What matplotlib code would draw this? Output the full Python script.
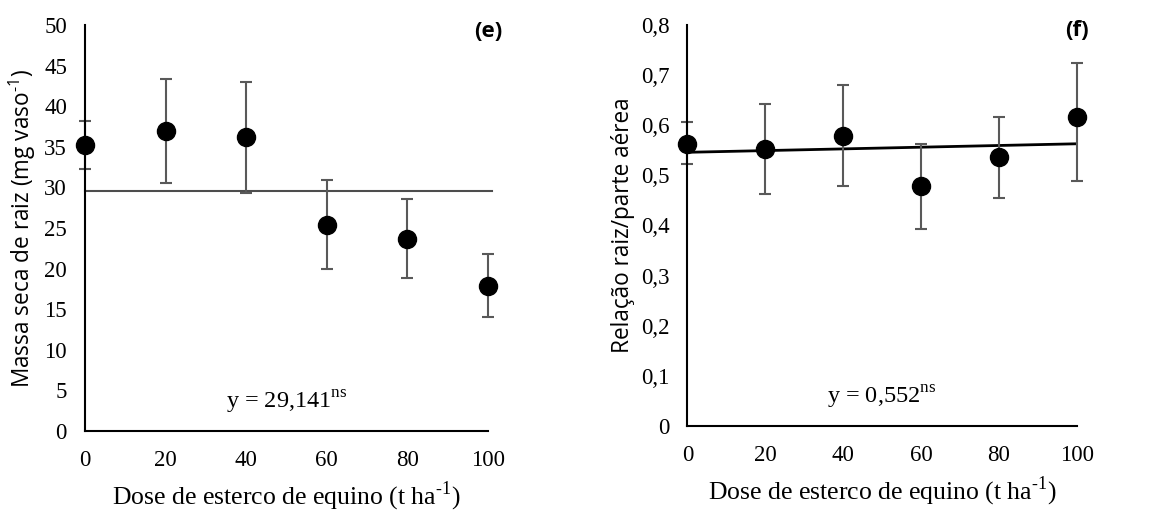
import numpy as np
import matplotlib.pyplot as plt

# doses (t ha-1)
dose = [0, 20, 40, 60, 80, 100]

# (e) root dry mass, mg per pot
massa = [35.2, 36.9, 36.2, 25.4, 23.7, 17.9]
massa_sup = [38.2, 43.3, 43.0, 30.9, 28.6, 21.8]
massa_inf = [32.3, 30.6, 29.3, 19.9, 18.8, 14.0]
massa_linha = 29.55

# (f) root / shoot ratio
rel = [0.563, 0.553, 0.579, 0.478, 0.537, 0.616]
rel_sup = [0.606, 0.643, 0.680, 0.563, 0.617, 0.724]
rel_inf = [0.522, 0.462, 0.478, 0.393, 0.455, 0.488]
rel_linha = [0.546, 0.563]  # fitted line at dose 0 and 100

serif = 'Liberation Serif'
sans = 'Open Sans'
xlab = 'Dose de esterco de equino (t ha$^{\\mathregular{\u20101}}$)'


def painel(ax, y, sup, inf, yticks, ylabels, ylab, letra, eq):
   y = np.array(y)
   err = [y - np.array(inf), np.array(sup) - y]
   ax.errorbar(dose, y, yerr=err, fmt='o', color='black', ms=13,
               ecolor='#595959', elinewidth=1.5, capsize=4, capthick=1.5,
               zorder=3, clip_on=False)
   ax.set_xlim(0, 100)
   ax.set_ylim(yticks[0], yticks[-1])
   ax.set_xticks(dose)
   ax.set_xticklabels([str(d) for d in dose], fontfamily=serif, fontsize=16.5)
   ax.set_yticks(yticks)
   ax.set_yticklabels(ylabels, fontfamily=serif, fontsize=16.5)
   ax.tick_params(axis='y', length=0, pad=13)
   ax.tick_params(axis='x', length=0, pad=14)
   for s in ['top', 'right']:
      ax.spines[s].set_visible(False)
   for s in ['left', 'bottom']:
      ax.spines[s].set_linewidth(1.5)
      ax.spines[s].set_zorder(4)
   ax.set_xlabel(xlab, fontfamily=serif, fontsize=18.5, labelpad=6)
   ax.set_ylabel(ylab, fontfamily=sans, fontsize=16.3, labelpad=4)
   ax.text(1.0, 0.985, letra, transform=ax.transAxes, ha='center', va='center',
           fontfamily=sans, fontweight='bold', fontsize=16)
   ax.text(0.5, 0.07, eq, transform=ax.transAxes, ha='center', va='center',
           fontfamily=serif, fontsize=17.5)


fig = plt.figure(figsize=(11.62, 5.13), dpi=100)

ax1 = fig.add_axes([0.0731, 0.1598, 0.3469, 0.7915])
ax1.axhline(massa_linha, xmin=0, xmax=1.01, color='#4d4d4d', lw=1.5, clip_on=False, zorder=2)
painel(ax1, massa, massa_sup, massa_inf, list(range(0, 51, 5)),
       [str(v) for v in range(0, 51, 5)],
       'Massa seca de raiz (mg vaso$^{\\mathregular{\u20101}}$)', '(e)',
       'y = 29,141$^{\\mathregular{ns}}$')

ax2 = fig.add_axes([0.5915, 0.1696, 0.3351, 0.7817])
ax2.plot([dose[0], dose[-1]], rel_linha, color='black', lw=2, zorder=2)
yt = [round(0.1 * i, 1) for i in range(9)]
painel(ax2, rel, rel_sup, rel_inf, yt,
       ['0'] + [('%.1f' % v).replace('.', ',') for v in yt[1:]],
       'Relação raiz/parte aérea', '(f)',
       'y = 0,552$^{\\mathregular{ns}}$')

fig.savefig('out.png', dpi=100)
